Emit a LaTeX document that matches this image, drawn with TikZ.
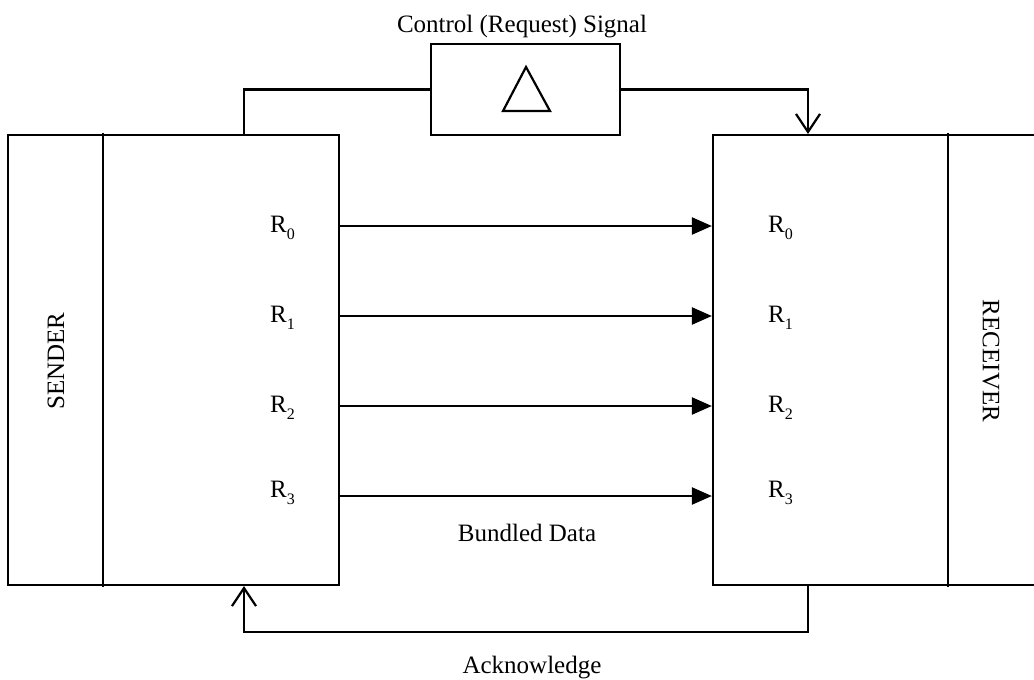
\documentclass[tikz,border=0pt]{standalone}
\usepackage{fontspec}
\setmainfont{Liberation Serif}
\usetikzlibrary{arrows.meta}

% register name with a lowered index
\newcommand{\regname}[1]{R\raisebox{-7pt}{\fontsize{16}{16}\selectfont #1}}

\begin{document}
\begin{tikzpicture}[x=1pt,y=-1pt,
  line/.style={line width=2.2pt, line cap=rect},
  blockbox/.style={draw, line width=2.2pt, rectangle, inner sep=0pt},
  txt/.style={font=\fontsize{25}{30}\selectfont, inner sep=0pt},
  datalink/.style={line width=2.2pt, -{Triangle[length=20pt,width=17pt]}},
  handshake/.style={line width=2.2pt, -{Straight Barb[length=18pt,width=24pt,line width=2.2pt]}}
]
\useasboundingbox (0,0) rectangle (1034,680);

% sender and receiver blocks
\node[blockbox, minimum width=331pt, minimum height=450pt] (snd) at (173.5,360) {};
\node[blockbox, minimum width=327pt, minimum height=450pt] (rcv) at (876.5,360) {};
\draw[line] ([xshift=96pt]snd.north west) -- ([xshift=96pt]snd.south west);
\draw[line] ([xshift=236pt]rcv.north west) -- ([xshift=236pt]rcv.south west);
\node[txt, rotate=90] (sndlbl) at (56,361) {SENDER};
\node[txt, rotate=-90] (rcvlbl) at (991,361) {RECEIVER};

% delay element on the request line
\node[blockbox, minimum width=189pt, minimum height=91pt] (ctl) at (525.5,89.5) {};
\draw[line, line join=miter] (526,67) -- (550,111) -- (503,111) -- cycle;
\node[txt, anchor=base] (ctllbl) at (522,32) {Control (Request) Signal};

% register labels
\node[txt, anchor=base west] (s0) at (270,232) {\regname{0}};
\node[txt, anchor=base west] (s1) at (270,322) {\regname{1}};
\node[txt, anchor=base west] (s2) at (270,412) {\regname{2}};
\node[txt, anchor=base west] (s3) at (270,497) {\regname{3}};
\node[txt, anchor=base west] (r0) at (768,232) {\regname{0}};
\node[txt, anchor=base west] (r1) at (768,322) {\regname{1}};
\node[txt, anchor=base west] (r2) at (768,412) {\regname{2}};
\node[txt, anchor=base west] (r3) at (768,497) {\regname{3}};

% bundled data lines
\coordinate (y0) at (0,226);
\coordinate (y1) at (0,316);
\coordinate (y2) at (0,406);
\coordinate (y3) at (0,496);
\foreach \i in {0,1,2,3}{
  \draw[datalink] (snd.east |- y\i) -- (rcv.west |- y\i);
}
\node[txt, anchor=base] (bdl) at (527,541) {Bundled Data};

% request and acknowledge handshake
\coordinate (reqx) at (244,0);
\coordinate (ackx) at (808,0);
\draw[line, line cap=butt] (snd.north -| reqx) |- (ctl.west);
\draw[handshake] (ctl.east) -| (rcv.north -| ackx);
\draw[handshake] (rcv.south -| ackx) -- ++(0,46) -| (snd.south -| reqx);
\node[txt, anchor=base] (acklbl) at (532,673) {Acknowledge};
\end{tikzpicture}
\end{document}
